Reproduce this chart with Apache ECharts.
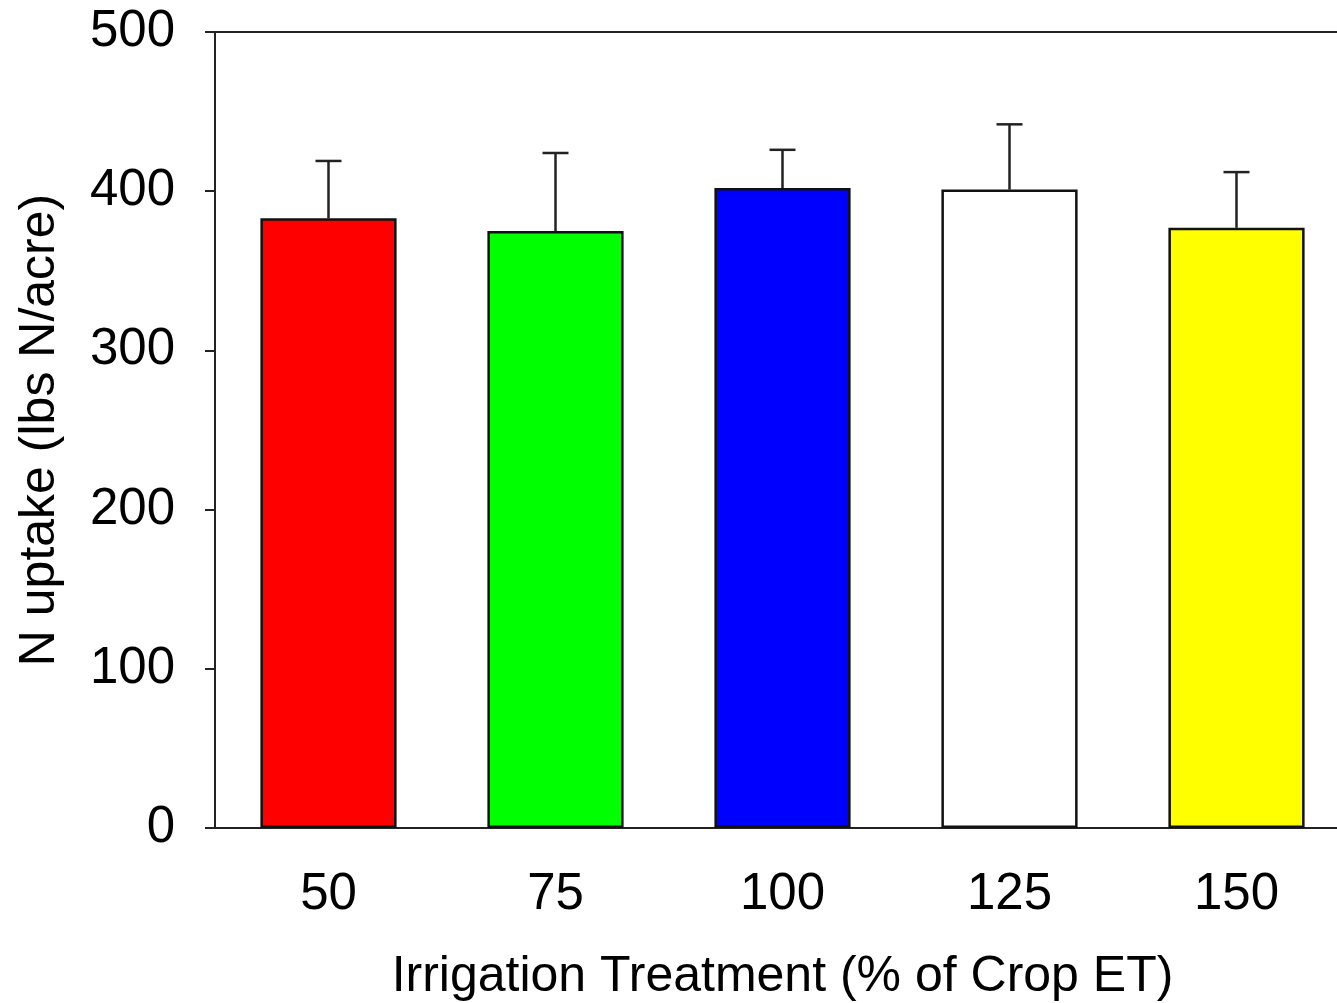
<!DOCTYPE html>
<html>
<head>
<meta charset="utf-8">
<script src="https://cdn.jsdelivr.net/npm/echarts@6/dist/echarts.min.js"></script>
<style>
  html, body { margin: 0; padding: 0; background: #fff; }
  #chart { width: 1337px; height: 1003px; }
</style>
</head>
<body>
<div id="chart"></div>
<script>
var categories = ['50', '75', '100', '125', '150'];
var means = [383, 375, 402, 401, 377];
var errUpper = [419, 424, 426, 442, 412];
var barColors = ['#ff0000', '#00ff00', '#0000ff', '#ffffff', '#ffff00'];
var yTicks = [0, 100, 200, 300, 400, 500];

var font = '"Liberation Sans", Arial, sans-serif';
var axisColor = '#222';

var myChart = echarts.init(document.getElementById('chart'));

var barData = means.map(function (v, i) {
    return { value: v, itemStyle: { color: barColors[i] } };
});
var errData = means.map(function (v, i) {
    return [i, v, errUpper[i]];
});

var option = {
    animation: false,
    backgroundColor: '#fff',
    grid: { left: 215, top: 32, width: 1135, height: 796, outerBoundsMode: 'none', containLabel: false },
    xAxis: [{
        type: 'category',
        data: categories,
        name: 'Irrigation Treatment (% of Crop ET)',
        nameLocation: 'middle',
        nameGap: 124,
        nameTextStyle: { fontFamily: font, fontSize: 50, color: '#000' },
        axisLine: { lineStyle: { color: axisColor, width: 2 } },
        axisTick: { alignWithLabel: true, length: 12, lineStyle: { color: axisColor, width: 2 } },
        axisLabel: { margin: 41, fontFamily: font, fontSize: 51, color: '#000' }
    }, {
        type: 'category',
        data: categories,
        position: 'top',
        axisLine: { lineStyle: { color: axisColor, width: 2 } },
        axisTick: { show: false },
        axisLabel: { show: false }
    }],
    yAxis: {
        type: 'value',
        min: yTicks[0],
        max: yTicks[yTicks.length - 1],
        interval: 100,
        name: 'N uptake (lbs N/acre)',
        nameLocation: 'middle',
        nameGap: 150,
        nameTextStyle: { fontFamily: font, fontSize: 50, color: '#000' },
        axisLine: { show: true, lineStyle: { color: axisColor, width: 2 } },
        axisTick: { show: true, length: 10, lineStyle: { color: axisColor, width: 2 } },
        axisLabel: { margin: 40, fontFamily: font, fontSize: 51, color: '#000' },
        splitLine: { show: false }
    },
    series: [{
        type: 'bar',
        data: barData,
        barWidth: '60%',
        itemStyle: { borderColor: '#111', borderWidth: 2.5 }
    }, {
        type: 'custom',
        data: errData,
        z: 1,
        renderItem: function (params, api) {
            var base = api.coord([api.value(0), api.value(1)]);
            var top = api.coord([api.value(0), api.value(2)]);
            var half = 13;
            var style = { stroke: '#222', lineWidth: 2.5 };
            return {
                type: 'group',
                children: [
                    { type: 'line', shape: { x1: base[0], y1: base[1], x2: top[0], y2: top[1] }, style: style },
                    { type: 'line', shape: { x1: top[0] - half, y1: top[1], x2: top[0] + half, y2: top[1] }, style: style }
                ]
            };
        }
    }]
};

myChart.setOption(option);
</script>
</body>
</html>
